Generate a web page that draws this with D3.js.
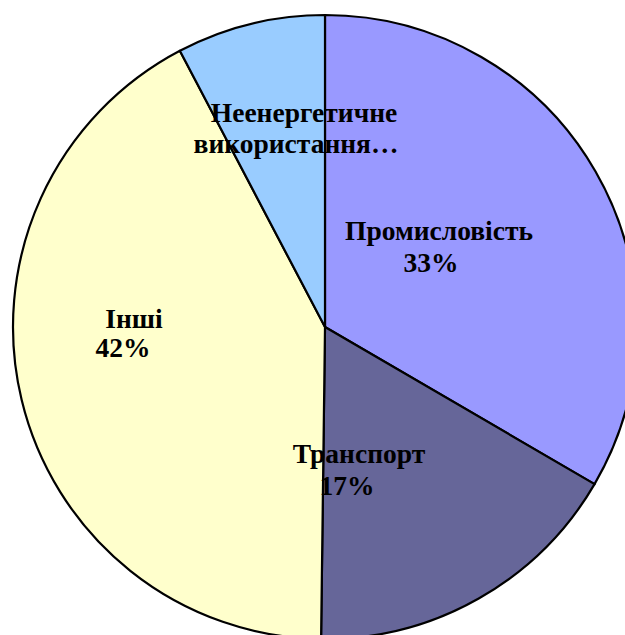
<!DOCTYPE html>
<html>
<head>
<meta charset="utf-8">
<script src="https://cdn.jsdelivr.net/npm/d3@7"></script>
<style>
  html, body { margin: 0; padding: 0; background: #fff; }
  svg { display: block; }
  text { font-family: "Liberation Serif", "Times New Roman", serif; font-weight: bold; fill: #000; }
</style>
</head>
<body>
<svg id="chart" width="625" height="635"></svg>
<script>
// Data
const categories = ["Промисловість", "Транспорт", "Інші", "Неенергетичне використання…"];
const values = [33.4, 16.8, 42.1, 7.7];
const percentLabels = ["33%", "17%", "42%", ""];
const colors = ["#9999FF", "#666699", "#FFFFCC", "#99CCFF"];

// Label layout (line centres relative to pie centre, px)
const labelLines = [
  [{t: "Промисловість", dx: 114, dy: -87}, {t: "33%", dx: 106, dy: -55}],
  [{t: "Транспорт", dx: 34, dy: 136}, {t: "17%", dx: 22, dy: 168}],
  [{t: "Інші", dx: -191, dy: 1}, {t: "42%", dx: -202, dy: 30}],
  [{t: "Неенергетичне", dx: -21, dy: -205}, {t: "використання…", dx: -29, dy: -174}]
];

const W = 625, H = 635;
const cx = 325, cy = 327, R = 312;

const svg = d3.select("#chart");
const g = svg.append("g").attr("transform", `translate(${cx},${cy})`);

const pie = d3.pie().sort(null).value(d => d)(values);
const arc = d3.arc().innerRadius(0).outerRadius(R);

g.selectAll("path.slice")
  .data(pie)
  .join("path")
  .attr("class", "slice")
  .attr("d", arc)
  .attr("fill", (d, i) => colors[i])
  .attr("stroke", "#000")
  .attr("stroke-width", 2.2)
  .attr("stroke-linejoin", "round");

labelLines.forEach((lines, i) => {
  lines.forEach(l => {
    g.append("text")
      .attr("x", l.dx)
      .attr("y", l.dy)
      .attr("text-anchor", "middle")
      .attr("font-size", 27.5)
      .text(l.t);
  });
});
</script>
</body>
</html>
